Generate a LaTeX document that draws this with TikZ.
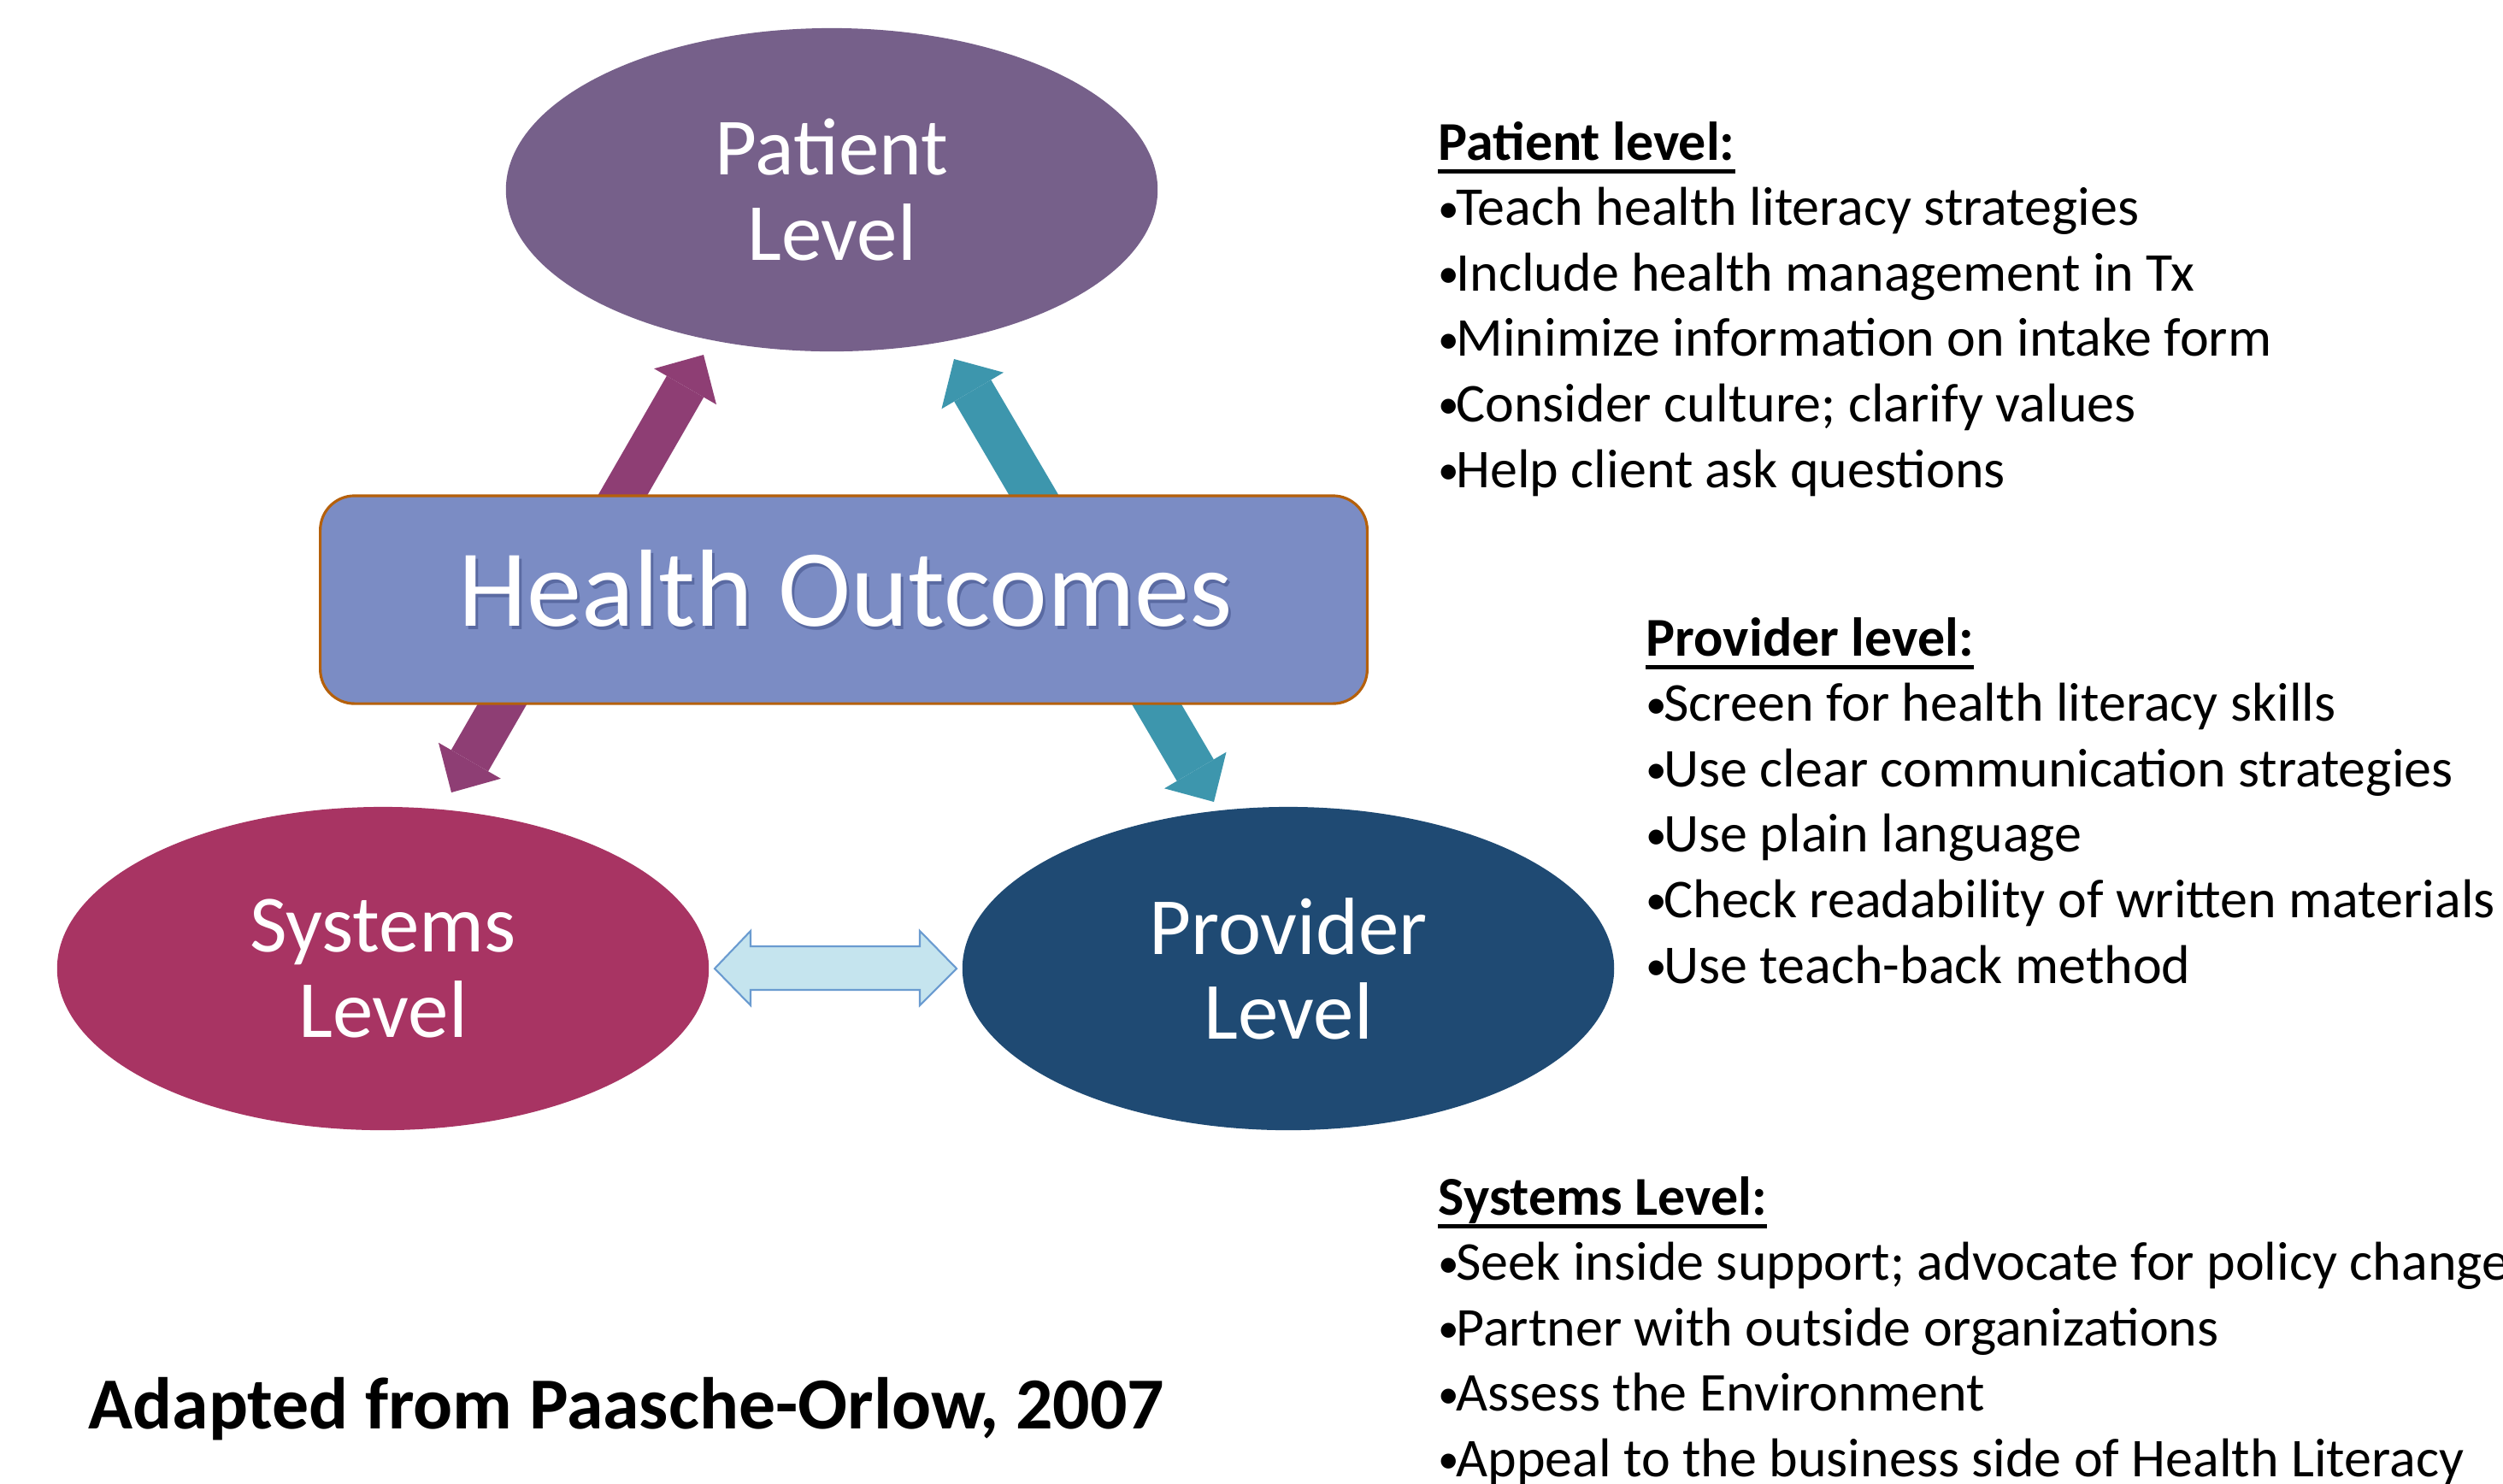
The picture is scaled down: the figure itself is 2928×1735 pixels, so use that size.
\documentclass[tikz,border=0pt]{standalone}
\usepackage{fontspec}
\setmainfont{Carlito}
\usetikzlibrary{arrows.meta, positioning, shapes.geometric}

\definecolor{patcol}{HTML}{76608A}
\definecolor{syscol}{HTML}{A83463}
\definecolor{provcol}{HTML}{1F4A73}
\definecolor{boxfill}{HTML}{7B8CC4}
\definecolor{boxline}{HTML}{B5600B}
\definecolor{magarr}{HTML}{8E3E74}
\definecolor{tealarr}{HTML}{3D96AD}
\definecolor{dblfill}{HTML}{C5E4EE}
\definecolor{dblline}{HTML}{6A9BD0}
\definecolor{glow}{HTML}{3A4A82}

\newcommand{\bul}{\raisebox{1pt}{\fontsize{14}{14}\selectfont •}\kern-1.1pt}

\tikzset{
  level/.style={ellipse, minimum width=7.62cm, minimum height=3.78cm, inner sep=0pt,
    text=white, align=center, font=\fontsize{27}{28.2}\selectfont},
  fatarrow/.style={line width=14.2pt, <->,
    >={Triangle[width=23.9pt, length=12.2pt, line width=0pt]}},
  item/.style={anchor=base west, inner sep=0pt, font=\fontsize{18.2}{21.8}\selectfont},
  heading/.style={item, font=\fontsize{18.2}{21.8}\selectfont\bfseries},
  ul/.style={line width=1.5pt},
}

\begin{document}
\begin{tikzpicture}[x=0.01cm, y=-0.01cm]
    \useasboundingbox[fill=white] (0,0) rectangle (2928,1735);

    % levels
    \node[level, fill=patcol] (pat) at (973,222) {Patient\\Level};
    \node[level, fill=syscol] (sys) at (448,1133) {Systems\\Level};
    \node[level, fill=provcol] (prov) at (1507,1133) {Provider\\Level};

    % arrow ends
    \coordinate (msys) at (528,927);
    \coordinate (mpat) at (823,415);
    \coordinate (tpat) at (1116,420);
    \coordinate (tprov) at (1420,938);
    \coordinate (dsys) at (836,1133);
    \coordinate (dprov) at (1119,1133);

    \draw[fatarrow, magarr] (msys) -- (mpat);
    \draw[fatarrow, tealarr] (tprov) -- (tpat);

    % systems <-> provider
    \draw[dblline, fill=dblfill, line width=0.6pt] (dsys) -- ++(42,-44) -- ++(0,18) -- ++(198,0)
        -- ++(0,-18) -- (dprov) -- ++(-43,43) -- ++(0,-18) -- ++(-198,0) -- ++(0,18) -- cycle;

    % centre box
    \node[draw=boxline, line width=0.9pt, fill=boxfill, rounded corners=0.4cm,
        minimum width=12.24cm, minimum height=2.43cm] (hobox) at (987,701.5) {};
    \node[anchor=base, text=glow, opacity=0.5, font=\fontsize{36.5}{40}\selectfont] (hoglow) at (992,736) {Health Outcomes};
    \node[anchor=base, text=white, font=\fontsize{36.5}{40}\selectfont] (ho) at (989,732) {Health Outcomes};

    \node[anchor=base west, inner sep=0pt, font=\fontsize{24.4}{30}\selectfont\bfseries] (src) at (103,1671)
        {Adapted from Paasche-Orlow, 2007};

    % lists
    \node[heading] (pathead) at (1682,187) {Patient level:};
    \draw[ul] ([yshift=-3.9pt]pathead.base west) -- ([yshift=-3.9pt]pathead.base east);
    \foreach \txt [count=\i] in {{Teach health literacy strategies},{Include health management in Tx},
        {Minimize information on intake form},{Consider culture; clarify values},{Help client ask questions}}
        \node[item] (patitem\i) at (1682,187+76.6*\i) {\bul\txt};

    \node[heading] (provhead) at (1925,767) {Provider level:};
    \draw[ul] ([yshift=-3.9pt]provhead.base west) -- ([yshift=-3.9pt]provhead.base east);
    \foreach \txt [count=\i] in {{Screen for health literacy skills},{Use clear communication strategies},
        {Use plain language},{Check readability of written materials},{Use teach-back method}}
        \node[item] (provitem\i) at (1925,767+76.6*\i) {\bul\txt};

    \node[heading] (syshead) at (1682,1421) {Systems Level:};
    \draw[ul] ([yshift=-3.9pt]syshead.base west) -- ([yshift=-3.9pt]syshead.base east);
    \foreach \txt [count=\i] in {{Seek inside support; advocate for policy change},{Partner with outside organizations},
        {Assess the Environment},{Appeal to the business side of Health Literacy}}
        \node[item] (sysitem\i) at (1682,1421+76.6*\i) {\bul\txt};
\end{tikzpicture}
\end{document}
